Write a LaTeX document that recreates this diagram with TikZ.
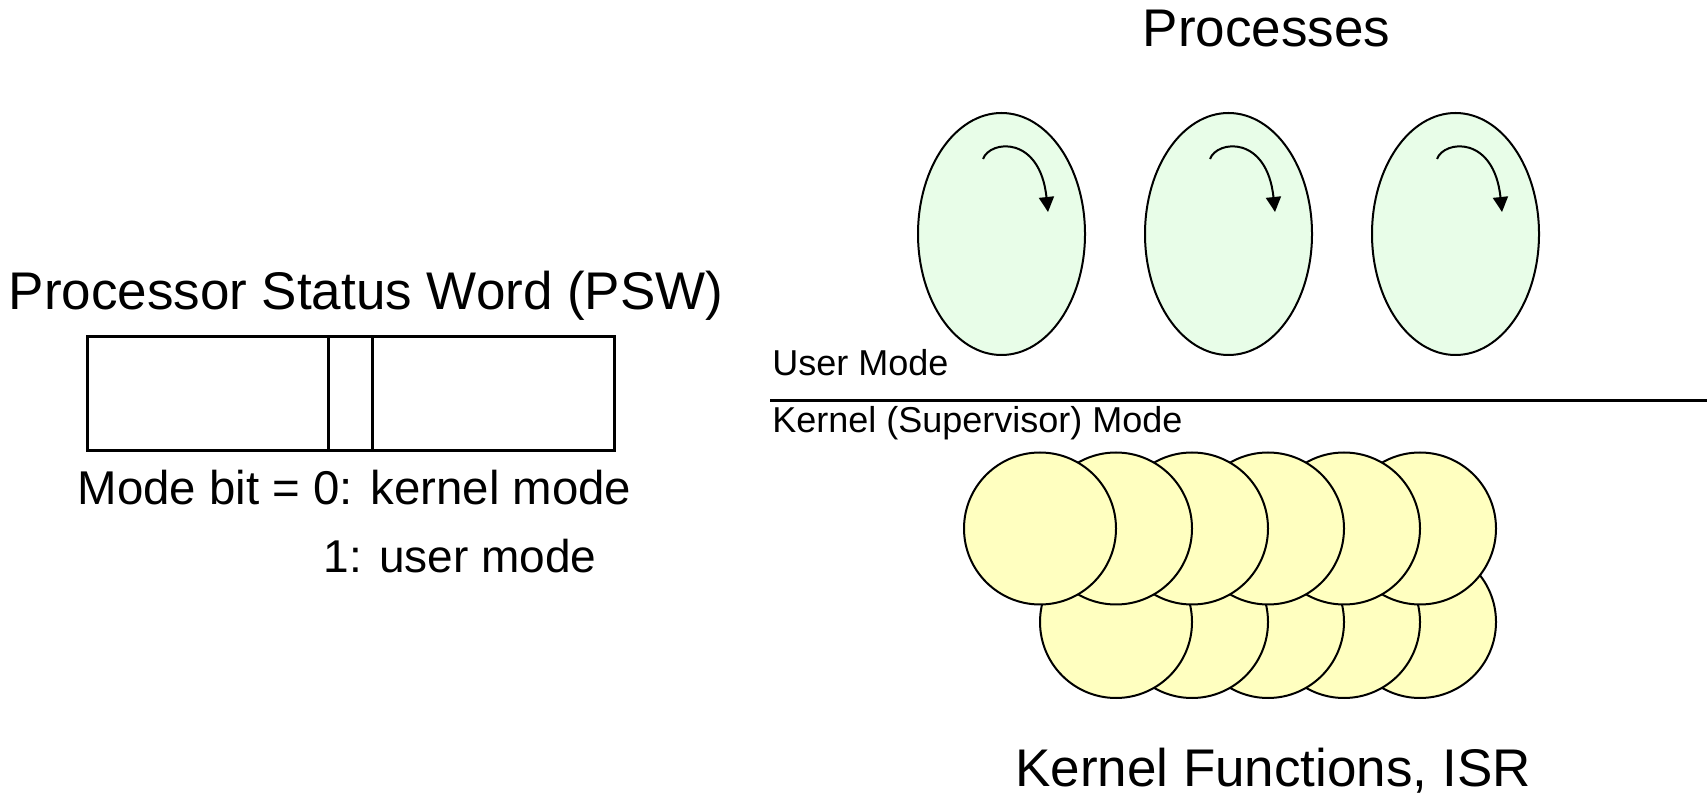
\documentclass[tikz,border=0pt]{standalone}
\usepackage{fontspec}
\setmainfont{Liberation Sans}
\usetikzlibrary{positioning}
\usetikzlibrary{shapes}
\usetikzlibrary{arrows.meta}
\definecolor{verdino}{RGB}{232,253,232}
\definecolor{giallino}{RGB}{255,255,192}

\begin{document}
\begin{tikzpicture}[x=0.5pt,y=-0.5pt,inner sep=0pt,
titolo/.style={font=\fontsize{26.5}{30}\selectfont,anchor=base},
testo/.style={font=\fontsize{23}{27}\selectfont,anchor=base},
modo/.style={font=\fontsize{18}{21}\selectfont,anchor=base west},
cella/.style={draw,line width=1.5pt,outer sep=0pt,minimum height=57pt},
processo/.style={draw,ellipse,line width=1pt,outer sep=0pt,fill=verdino,minimum width=83.5pt,minimum height=121pt},
funzione/.style={draw,circle,line width=1pt,outer sep=0pt,fill=giallino,minimum size=76pt},
giro/.style={line width=1pt,-{Triangle[length=7.5pt,width=7.5pt]}}
]
\useasboundingbox (0,0) rectangle (1707,795);
%--
\node[titolo](psw) at (366,310){Processor Status Word (PSW)};
\node[cella,minimum width=120.5pt](c1) at (207.5,394){};
\node[cella,minimum width=22pt,right=0pt of c1](c2){};
\node[cella,minimum width=121pt,right=0pt of c2](c3){};
\node[testo,font=\fontsize{23.7}{27}\selectfont](m0) at (354.5,505){Mode bit = 0: kernel mode};
\node[testo](m1) at (460,573){1: user mode};
%/////////////////////////////////////////////////////////
\node[titolo](tp) at (1266.5,47){Processes};
\node[processo](pr1) at (1001.5,234){};
\draw[giro] ([shift={(-18.5,-75)}]pr1.center) .. controls ([shift={(-11.5,-94)}]pr1.center) and ([shift={(38.5,-99)}]pr1.center) .. ([shift={(46.5,-22)}]pr1.center);
%--
\node[processo,right=30pt of pr1](pr2){};
\draw[giro] ([shift={(-18.5,-75)}]pr2.center) .. controls ([shift={(-11.5,-94)}]pr2.center) and ([shift={(38.5,-99)}]pr2.center) .. ([shift={(46.5,-22)}]pr2.center);
%--
\node[processo,right=30pt of pr2](pr3){};
\draw[giro] ([shift={(-18.5,-75)}]pr3.center) .. controls ([shift={(-11.5,-94)}]pr3.center) and ([shift={(38.5,-99)}]pr3.center) .. ([shift={(46.5,-22)}]pr3.center);
%/////////////////////////////////////////////////////////
\node[modo](um) at (772,376){User Mode};
\coordinate (sx) at (770,401);
\coordinate (dx) at (1707,401);
\draw[line width=1.5pt] (sx) -- (dx);
\node[modo](km) at (772,433){Kernel (Supervisor) Mode};
%/////////////////////////////////////////////////////////
\node[funzione](b5) at (1420,622){};
\node[funzione,left=-38pt of b5](b4){};
\node[funzione,left=-38pt of b4](b3){};
\node[funzione,left=-38pt of b3](b2){};
\node[funzione,left=-38pt of b2](b1){};
%--
\node[funzione](k6) at (1420,528.5){};
\node[funzione,left=-38pt of k6](k5){};
\node[funzione,left=-38pt of k5](k4){};
\node[funzione,left=-38pt of k4](k3){};
\node[funzione,left=-38pt of k3](k2){};
\node[funzione,left=-38pt of k2](k1){};
%--
\node[titolo](tk) at (1273,786){Kernel Functions, ISR};
\end{tikzpicture}
\end{document}
